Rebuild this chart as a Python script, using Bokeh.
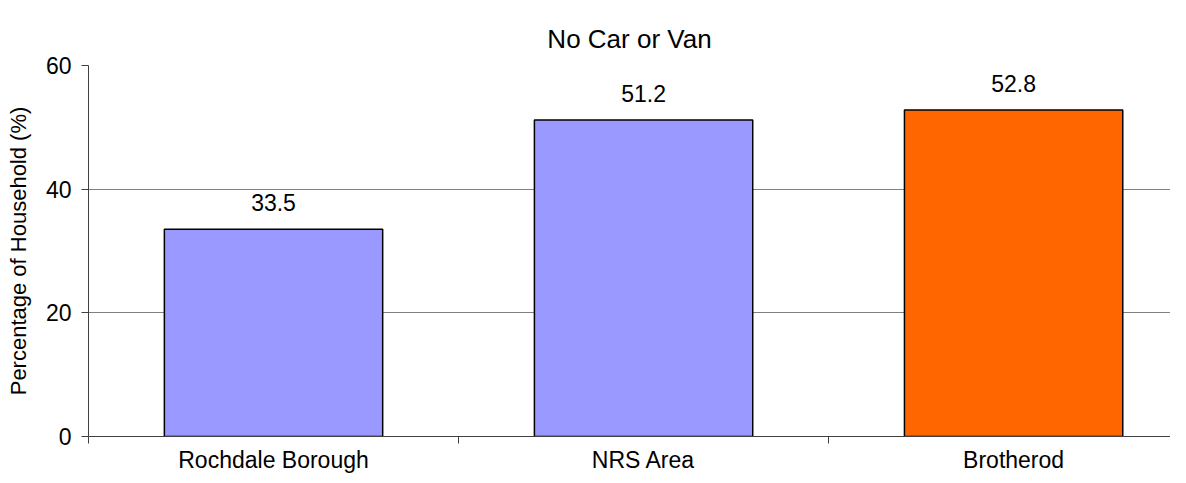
from bokeh.plotting import figure
from bokeh.models import ColumnDataSource, LabelSet, FixedTicker, Range1d
from bokeh.core.properties import value
from bokeh.embed import file_html
from bokeh.resources import INLINE

categories = ["Rochdale Borough", "NRS Area", "Brotherod"]
values = [33.5, 51.2, 52.8]
colors = ["#9999FF", "#9999FF", "#FF6600"]
y_ticks = [0, 20, 40, 60]

FONT = "Liberation Sans"
xs = [i + 0.5 for i in range(len(categories))]
src = ColumnDataSource(dict(x=xs, top=values, color=colors,
                            label=[f"{v:.1f}" for v in values]))

p = figure(width=1170, height=475, output_backend="svg", toolbar_location=None,
           x_range=Range1d(0, 2.924), y_range=Range1d(0, 60),
           min_border_left=88, min_border_right=0, min_border_top=65, min_border_bottom=38)

p.title.text = "No Car or Van"
p.title.align = "center"
p.title.offset = -31
p.title.text_font = FONT
p.title.text_font_size = "26px"
p.title.text_font_style = "normal"
p.title.text_color = "black"
p.title.text_line_height = 0.9
p.title.standoff = 24

p.vbar(x="x", top="top", width=0.59, fill_color="color", line_color="black",
       line_width=1.5, source=src)

p.add_layout(LabelSet(x="x", y="top", text="label", source=src, text_align="center",
                      text_baseline="bottom", y_offset=18, text_font=value(FONT),
                      text_font_size=value("23px"), text_color="black"))

p.outline_line_color = None
p.xgrid.grid_line_color = None
p.ygrid.grid_line_color = "#808080"
p.ygrid.ticker = FixedTicker(ticks=y_ticks)

p.yaxis.ticker = FixedTicker(ticks=y_ticks)
p.yaxis.axis_label = "Percentage of Household (%)"
p.yaxis.axis_label_text_font = FONT
p.yaxis.axis_label_text_font_size = "22px"
p.yaxis.axis_label_text_font_style = "normal"
p.yaxis.axis_label_text_color = "black"
p.yaxis.axis_label_standoff = 12
p.yaxis.major_label_text_font = FONT
p.yaxis.major_label_text_font_size = "23px"
p.yaxis.major_label_text_color = "black"
p.yaxis.major_label_standoff = 10
p.yaxis.major_tick_out = 7
p.yaxis.major_tick_in = 0
p.yaxis.minor_tick_line_color = None
p.yaxis.axis_line_color = "#404040"
p.yaxis.major_tick_line_color = "#404040"

p.xaxis.ticker = FixedTicker(ticks=xs, minor_ticks=list(range(len(categories) + 1)))
p.xaxis.major_label_overrides = {x: c for x, c in zip(xs, categories)}
p.xaxis.major_tick_out = 0
p.xaxis.major_tick_in = 0
p.xaxis.minor_tick_out = 7
p.xaxis.minor_tick_in = 0
p.xaxis.minor_tick_line_color = "#404040"
p.xaxis.axis_line_color = "#404040"
p.xaxis.major_label_text_font = FONT
p.xaxis.major_label_text_font_size = "23px"
p.xaxis.major_label_text_color = "black"
p.xaxis.major_label_standoff = 3

open("out.html", "w").write(file_html(p, INLINE))
